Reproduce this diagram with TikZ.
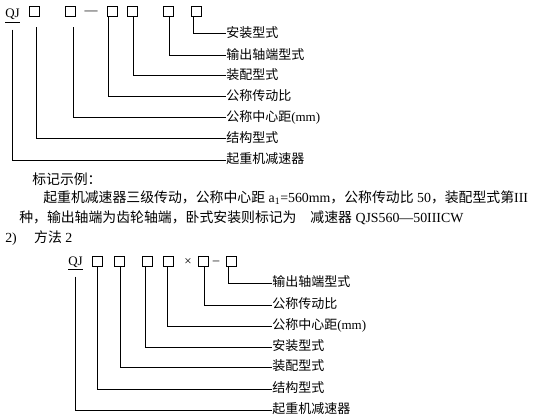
\documentclass[tikz,border=0pt]{standalone}
\usepackage{fontspec}
\setmainfont{Liberation Serif}
\newfontfamily\cjk{Noto Sans CJK SC}
\usepackage{tikz}
\usetikzlibrary{positioning}
\newcommand{\txtsz}{\fontsize{9.75}{11}\selectfont}
\newcommand{\parsz}{\fontsize{10.4}{12}\selectfont}
\tikzset{
  slot/.style={draw, minimum size=7.5pt, inner sep=0pt, line width=0.75pt},
  lbl/.style={anchor=west, inner sep=0pt, font=\txtsz\cjk},
  para/.style={anchor=west, inner sep=0pt, font=\parsz},
  sign/.style={anchor=base, inner sep=0pt, font=\txtsz},
  lead/.style={line width=0.75pt},
}

\begin{document}
\begin{tikzpicture}[x=0.75pt, y=-0.75pt]
  \useasboundingbox (0,0) rectangle (538,417);
  % ── Method 1: code ──
  \node[sign, anchor=base west] (qj) at (5,18) {\underline{QJ}};
  \node[slot] (a1) at (34,12) {};
  \node[slot] (a2) at (70,12) {};
  \node[sign] (dash1) at (91,15) {—};
  \node[slot] (a3) at (112,12) {};
  \node[slot] (a4) at (132,12) {};
  \node[slot] (a5) at (168,12) {};
  \node[slot] (a6) at (196,12) {};
  % ── Method 1: meanings ──
  \node[lbl] (t6) at (226,33) {安装型式};
  \node[lbl] (t5) at (226,55) {输出轴端型式};
  \node[lbl] (t4) at (226,75) {装配型式};
  \node[lbl] (t3) at (226,96) {公称传动比};
  \node[lbl] (t2) at (226,117) {公称中心距{\rmfamily (mm)}};
  \node[lbl] (t1) at (226,138) {结构型式};
  \node[lbl] (t0) at (226,159) {起重机减速器};
  % ── Method 1: leaders ──
  \draw[lead] ([xshift=-2.25pt]a6.south) |- ([yshift=-0.75pt]t6.west);
  \draw[lead] ([xshift=0.75pt]a5.south) |- ([yshift=-0.75pt]t5.west);
  \draw[lead] ([xshift=0.75pt]a4.south) |- ([yshift=-0.75pt]t4.west);
  \draw[lead] ([xshift=-3pt]a3.south) |- ([yshift=-0.75pt]t3.west);
  \draw[lead] ([xshift=2.25pt,yshift=-7.5pt]a2.south) |- ([yshift=-0.75pt]t2.west);
  \draw[lead] ([xshift=1.5pt,yshift=-7.5pt]a1.south) |- ([yshift=-0.75pt]t1.west);
  \draw[lead] ([yshift=-5pt]qj.south) |- ([yshift=-0.75pt]t0.west);
  % ── Example text ──
  \node[para] (p1) at (32,179) {{\cjk 标记示例：}};
  \node[para] (p2) at (43,198)
    {{\cjk 起重机减速器三级传动，公称中心距} a\textsubscript{1}=560mm{\cjk ，公称传动比} 50{\cjk ，装配型式第}III};
  \node[para] (p3) at (19,218)
    {{\cjk 种，输出轴端为齿轮轴端，卧式安装则标记为　减速器} QJS560—50IIICW};
  \node[para] (p4) at (5,238) {2)\hspace{13pt}{\cjk 方法} 2};
  % ── Method 2: code ──
  \node[sign, anchor=base west] (qj2) at (68,265) {\underline{QJ}};
  \node[slot] (b1) at (97,261.5) {};
  \node[slot] (b2) at (119,261.5) {};
  \node[slot] (b3) at (147,261.5) {};
  \node[slot] (b4) at (168,261.5) {};
  \node[sign] (times) at (188,265) {×};
  \node[slot] (b5) at (203,261.5) {};
  \node[sign] (dash2) at (216,264.5) {–};
  \node[slot] (b6) at (231,261.5) {};
  % ── Method 2: meanings ──
  \node[lbl] (s6) at (272,282) {输出轴端型式};
  \node[lbl] (s5) at (272,304) {公称传动比};
  \node[lbl] (s4) at (272,325) {公称中心距{\rmfamily (mm)}};
  \node[lbl] (s3) at (272,346) {安装型式};
  \node[lbl] (s2) at (272,366) {装配型式};
  \node[lbl] (s1) at (272,388) {结构型式};
  \node[lbl] (s0) at (272,409) {起重机减速器};
  % ── Method 2: leaders ──
  \draw[lead] ([xshift=-2.25pt]b6.south) |- ([yshift=-0.75pt]s6.west);
  \draw[lead] ([xshift=0.75pt]b5.south) |- ([yshift=-0.75pt]s5.west);
  \draw[lead] ([xshift=-0.75pt]b4.south) |- ([yshift=-0.75pt]s4.west);
  \draw[lead] ([xshift=-1.5pt]b3.south) |- ([yshift=-0.75pt]s3.west);
  \draw[lead] ([xshift=0.75pt]b2.south) |- ([yshift=-0.75pt]s2.west);
  \draw[lead] (b1.south) |- ([yshift=-0.75pt]s1.west);
  \draw[lead] ([yshift=-5pt]qj2.south) |- ([yshift=-0.75pt]s0.west);
\end{tikzpicture}
\end{document}
